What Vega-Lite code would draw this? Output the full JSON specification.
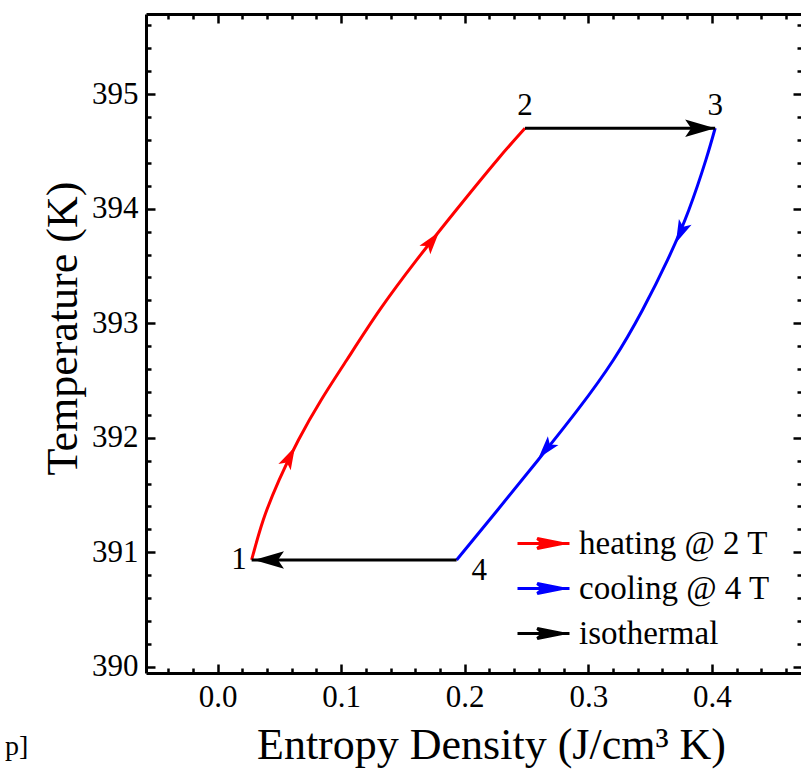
{
  "$schema": "https://vega.github.io/schema/vega-lite/v6.json",
  "width": 656,
  "height": 659,
  "autosize": {"type": "none"},
  "padding": {"left": 146, "top": 14, "right": 0, "bottom": 103},
  "background": "white",
  "title": {"text": "p]", "orient": "bottom", "anchor": "start", "frame": "group", "dx": -141, "dy": -34, "offset": 0, "fontSize": 28, "fontWeight": "normal", "font": "Liberation Serif", "color": "black"},
  "config": {
    "font": "Liberation Serif",
    "view": {"stroke": null},
    "axis": {
      "domainColor": "black", "domainWidth": 3, "tickColor": "black", "tickWidth": 2.5,
      "labelFont": "Liberation Serif", "labelFontSize": 31, "labelColor": "black",
      "titleFont": "Liberation Serif", "titleFontSize": 44, "titleFontWeight": "normal", "titleColor": "black",
      "grid": false, "labelOverlap": false, "labelFlush": false, "labelBound": false
    }
  },
  "datasets": {
    "curves": [
      {"process": "heating @ 2 T", "seg": "h", "i": 1, "S": 0.0275, "T": 390.933},
      {"process": "heating @ 2 T", "seg": "h", "i": 2, "S": 0.0369, "T": 391.282},
      {"process": "heating @ 2 T", "seg": "h", "i": 3, "S": 0.0497, "T": 391.631},
      {"process": "heating @ 2 T", "seg": "h", "i": 4, "S": 0.0654, "T": 391.981},
      {"process": "heating @ 2 T", "seg": "h", "i": 5, "S": 0.0838, "T": 392.330},
      {"process": "heating @ 2 T", "seg": "h", "i": 6, "S": 0.1045, "T": 392.679},
      {"process": "heating @ 2 T", "seg": "h", "i": 7, "S": 0.1312, "T": 393.116},
      {"process": "heating @ 2 T", "seg": "h", "i": 8, "S": 0.1611, "T": 393.553},
      {"process": "heating @ 2 T", "seg": "h", "i": 9, "S": 0.1931, "T": 393.989},
      {"process": "heating @ 2 T", "seg": "h", "i": 10, "S": 0.2263, "T": 394.426},
      {"process": "heating @ 2 T", "seg": "h", "i": 11, "S": 0.2488, "T": 394.703},
      {"process": "cooling @ 4 T", "seg": "c", "i": 1, "S": 0.4027, "T": 394.703},
      {"process": "cooling @ 4 T", "seg": "c", "i": 2, "S": 0.3952, "T": 394.426},
      {"process": "cooling @ 4 T", "seg": "c", "i": 3, "S": 0.3814, "T": 393.989},
      {"process": "cooling @ 4 T", "seg": "c", "i": 4, "S": 0.3642, "T": 393.553},
      {"process": "cooling @ 4 T", "seg": "c", "i": 5, "S": 0.3439, "T": 393.116},
      {"process": "cooling @ 4 T", "seg": "c", "i": 6, "S": 0.3203, "T": 392.679},
      {"process": "cooling @ 4 T", "seg": "c", "i": 7, "S": 0.2914, "T": 392.243},
      {"process": "cooling @ 4 T", "seg": "c", "i": 8, "S": 0.2594, "T": 391.806},
      {"process": "cooling @ 4 T", "seg": "c", "i": 9, "S": 0.2266, "T": 391.369},
      {"process": "cooling @ 4 T", "seg": "c", "i": 10, "S": 0.1934, "T": 390.933},
      {"process": "isothermal", "seg": "23", "i": 1, "S": 0.2488, "T": 394.703},
      {"process": "isothermal", "seg": "23", "i": 2, "S": 0.4027, "T": 394.703},
      {"process": "isothermal", "seg": "41", "i": 1, "S": 0.1934, "T": 390.933},
      {"process": "isothermal", "seg": "41", "i": 2, "S": 0.0275, "T": 390.933}
    ],
    "arrows": [
      {"process": "heating @ 2 T", "S": 0.0626, "T": 391.922, "dir": -63},
      {"process": "heating @ 2 T", "S": 0.1792, "T": 393.797, "dir": -52},
      {"process": "cooling @ 4 T", "S": 0.3709, "T": 393.701, "dir": 114},
      {"process": "cooling @ 4 T", "S": 0.2596, "T": 391.821, "dir": 130},
      {"process": "isothermal", "S": 0.4027, "T": 394.703, "dir": 0},
      {"process": "isothermal", "S": 0.0294, "T": 390.933, "dir": 180}
    ],
    "labels": [
      {"label": "1", "S": 0.0275, "T": 390.933},
      {"label": "2", "S": 0.2488, "T": 394.703},
      {"label": "3", "S": 0.4027, "T": 394.703},
      {"label": "4", "S": 0.1934, "T": 390.933}
    ]
  },
  "layer": [
    {
      "data": {"name": "curves"},
      "mark": {"type": "line", "strokeWidth": 3, "interpolate": "natural", "clip": true},
      "encoding": {
        "x": {"field": "S", "type": "quantitative", "scale": {"domain": [-0.058, 0.473], "nice": false, "zero": false},
          "axis": {"orient": "bottom", "title": "Entropy Density (J/cm³ K)", "titlePadding": 7, "titleX": 345,
            "values": [-0.04, -0.02, 0, 0.02, 0.04, 0.06, 0.08, 0.1, 0.12, 0.14, 0.16, 0.18, 0.2, 0.22, 0.24, 0.26, 0.28, 0.3, 0.32, 0.34, 0.36, 0.38, 0.4, 0.42, 0.44, 0.46],
            "labelExpr": "abs(datum.value*10-round(datum.value*10))<0.001 ? format(datum.value,'.1f') : ''",
            "tickSize": {"condition": {"test": "abs(datum.value*10-round(datum.value*10))<0.001", "value": -9}, "value": -5},
            "labelPadding": 18}},
        "y": {"field": "T", "type": "quantitative", "scale": {"domain": [389.946, 395.70], "nice": false, "zero": false},
          "axis": {"orient": "left", "title": "Temperature (K)", "titlePadding": 6, "titleY": 314,
            "values": [390, 390.2, 390.4, 390.6, 390.8, 391, 391.2, 391.4, 391.6, 391.8, 392, 392.2, 392.4, 392.6, 392.8, 393, 393.2, 393.4, 393.6, 393.8, 394, 394.2, 394.4, 394.6, 394.8, 395, 395.2, 395.4, 395.6],
            "labelExpr": "abs(datum.value-round(datum.value))<0.001 ? format(datum.value,'d') : ''",
            "tickSize": {"condition": {"test": "abs(datum.value-round(datum.value))<0.001", "value": -9}, "value": -5},
            "labelPadding": 17}},
        "color": {"field": "process", "type": "nominal",
          "scale": {"domain": ["heating @ 2 T", "cooling @ 4 T", "isothermal"], "range": ["#ff0000", "#0000ff", "#000000"]},
          "legend": {"orient": "none", "legendX": 370, "legendY": 502, "title": null,
            "symbolType": "M-1,0L1,0M0.72,0L-0.24,-0.19L0,0L-0.24,0.19Z", "symbolSize": 2704, "symbolStrokeWidth": 3,
            "labelFont": "Liberation Serif", "labelFontSize": 33, "labelColor": "black", "labelLimit": 0, "rowPadding": -16, "labelOffset": 8,
            "encode": {"symbols": {"update": {"fill": {"scale": "color", "field": "value"}}}}}},
        "detail": {"field": "seg"},
        "order": {"field": "i", "type": "quantitative"}
      }
    },
    {
      "data": {"name": "arrows"},
      "transform": [{"filter": "datum.process !== 'isothermal'"}],
      "mark": {"type": "point", "filled": true, "opacity": 1, "strokeWidth": 0, "size": 530, "shape": "M0,0L-2,-0.6L-1.55,0L-2,0.6Z"},
      "encoding": {
        "x": {"field": "S", "type": "quantitative", "scale": {"domain": [-0.058, 0.473], "nice": false, "zero": false},
          "axis": {"orient": "top", "title": null, "labels": false,
            "values": [-0.04, -0.02, 0, 0.02, 0.04, 0.06, 0.08, 0.1, 0.12, 0.14, 0.16, 0.18, 0.2, 0.22, 0.24, 0.26, 0.28, 0.3, 0.32, 0.34, 0.36, 0.38, 0.4, 0.42, 0.44, 0.46],
            "tickSize": {"condition": {"test": "abs(datum.value*10-round(datum.value*10))<0.001", "value": -9}, "value": -5}}},
        "y": {"field": "T", "type": "quantitative", "scale": {"domain": [389.946, 395.70], "nice": false, "zero": false},
          "axis": {"orient": "right", "title": null, "labels": false,
            "values": [390, 390.2, 390.4, 390.6, 390.8, 391, 391.2, 391.4, 391.6, 391.8, 392, 392.2, 392.4, 392.6, 392.8, 393, 393.2, 393.4, 393.6, 393.8, 394, 394.2, 394.4, 394.6, 394.8, 395, 395.2, 395.4, 395.6],
            "tickSize": {"condition": {"test": "abs(datum.value-round(datum.value))<0.001", "value": -9}, "value": -5}}},
        "color": {"field": "process", "type": "nominal", "legend": null},
        "angle": {"field": "dir", "type": "quantitative", "scale": null}
      }
    },
    {
      "data": {"name": "arrows"},
      "transform": [{"filter": "datum.process === 'isothermal'"}],
      "mark": {"type": "point", "filled": true, "opacity": 1, "strokeWidth": 0, "size": 900, "shape": "M0,0L-2,-0.58L-1.6,0L-2,0.58Z"},
      "encoding": {
        "x": {"field": "S", "type": "quantitative", "axis": null},
        "y": {"field": "T", "type": "quantitative", "axis": null},
        "color": {"field": "process", "type": "nominal", "legend": null},
        "angle": {"field": "dir", "type": "quantitative", "scale": null}
      }
    },
    {
      "data": {"name": "labels"},
      "transform": [{"filter": "datum.label === '1'"}],
      "mark": {"type": "text", "fontSize": 31, "align": "right", "baseline": "middle", "dx": -5, "font": "Liberation Serif", "color": "black"},
      "encoding": {
        "x": {"field": "S", "type": "quantitative", "axis": null},
        "y": {"field": "T", "type": "quantitative", "axis": null},
        "text": {"field": "label"}
      }
    },
    {
      "data": {"name": "labels"},
      "transform": [{"filter": "datum.label === '2' || datum.label === '3'"}],
      "mark": {"type": "text", "fontSize": 31, "align": "center", "baseline": "alphabetic", "dy": -13, "font": "Liberation Serif", "color": "black"},
      "encoding": {
        "x": {"field": "S", "type": "quantitative", "axis": null},
        "y": {"field": "T", "type": "quantitative", "axis": null},
        "text": {"field": "label"}
      }
    },
    {
      "data": {"name": "labels"},
      "transform": [{"filter": "datum.label === '4'"}],
      "mark": {"type": "text", "fontSize": 31, "align": "left", "baseline": "middle", "dx": 15, "dy": 11, "font": "Liberation Serif", "color": "black"},
      "encoding": {
        "x": {"field": "S", "type": "quantitative", "axis": null},
        "y": {"field": "T", "type": "quantitative", "axis": null},
        "text": {"field": "label"}
      }
    }
  ],
  "resolve": {"axis": {"x": "independent", "y": "independent"}}
}
